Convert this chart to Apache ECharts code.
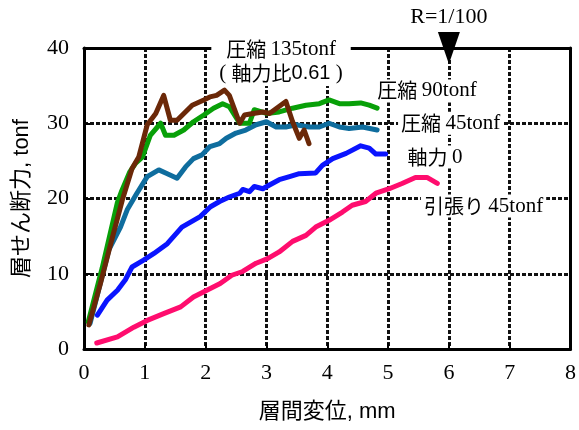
<!DOCTYPE html>
<html><head><meta charset="utf-8">
<script src="https://cdn.jsdelivr.net/npm/echarts@6/dist/echarts.min.js"></script>
<style>html,body{margin:0;padding:0;background:#fff}#c{width:579px;height:430px}</style>
</head><body><div id="c"></div>
<script>
// ---- data (x: 層間変位 mm, y: 層せん断力 tonf) ----
const xTickLabels = ['0','1','2','3','4','5','6','7','8'];
const yTickLabels = ['0','10','20','30','40'];
const seriesNames = ['引張り 45tonf','軸力 0','圧縮 45tonf','圧縮 90tonf','圧縮 135tonf'];

const tension45 = [[0.21,0.8],[0.55,1.6],[0.82,2.9],[1.04,3.8],[1.31,4.7],[1.59,5.6],[1.80,6.9],[2.02,7.8],[2.24,8.7],[2.43,9.8],[2.61,10.3],[2.83,11.4],[3.02,12.0],[3.21,12.9],[3.43,14.3],[3.65,15.1],[3.81,16.2],[4.03,17.1],[4.25,18.2],[4.41,19.1],[4.63,19.6],[4.80,20.7],[5.02,21.3],[5.23,22.0],[5.45,22.8],[5.64,22.8],[5.81,22.0]];
const axial0 = [[0.22,4.5],[0.38,6.5],[0.55,7.8],[0.68,9.2],[0.79,10.9],[0.98,11.8],[1.15,12.7],[1.37,14.0],[1.61,16.2],[1.91,17.6],[2.08,18.9],[2.23,19.6],[2.39,20.2],[2.56,20.7],[2.61,21.2],[2.72,20.9],[2.80,21.6],[2.94,21.3],[3.05,21.8],[3.21,22.5],[3.38,22.9],[3.54,23.3],[3.81,23.4],[3.92,24.4],[4.09,25.3],[4.31,26.0],[4.55,27.0],[4.69,26.7],[4.80,25.9],[4.96,25.9]];
const comp45 = [[0.10,3.4],[0.41,13.2],[0.60,16.2],[0.71,18.5],[0.87,20.7],[1.04,22.9],[1.23,23.8],[1.37,23.3],[1.53,22.7],[1.67,24.2],[1.80,25.3],[1.94,25.8],[2.07,26.9],[2.23,27.3],[2.34,28.0],[2.50,28.7],[2.66,29.1],[2.83,29.8],[3.00,30.2],[3.16,29.5],[3.32,29.5],[3.49,29.8],[3.70,29.5],[3.87,29.5],[4.03,30.0],[4.20,29.5],[4.36,29.3],[4.58,29.5],[4.82,29.1]];
const comp90 = [[0.07,3.6],[0.30,10.8],[0.55,19.5],[0.62,21.0],[0.75,23.5],[0.85,24.7],[0.96,25.5],[1.09,28.4],[1.26,30.0],[1.34,28.4],[1.48,28.4],[1.64,29.1],[1.80,30.2],[1.97,31.1],[2.13,32.0],[2.28,32.6],[2.39,32.2],[2.56,30.0],[2.72,30.0],[2.80,31.8],[3.00,31.3],[3.21,31.5],[3.43,32.0],[3.65,32.4],[3.87,32.6],[4.03,33.1],[4.20,32.6],[4.36,32.6],[4.55,32.7],[4.69,32.4],[4.82,32.0]];
const comp135 = [[0.08,3.2],[0.27,8.7],[0.44,14.0],[0.63,19.8],[0.79,24.0],[0.90,25.5],[1.04,29.8],[1.18,31.3],[1.31,33.7],[1.42,30.4],[1.53,30.4],[1.78,32.4],[1.97,33.1],[2.07,33.5],[2.18,33.7],[2.31,34.4],[2.39,33.7],[2.56,30.0],[2.64,31.1],[2.78,31.3],[2.94,31.5],[3.05,31.3],[3.32,32.9],[3.43,30.2],[3.54,28.0],[3.62,29.1],[3.70,27.3]];
const driftMark = [6, 40]; // R=1/100

const SERIF = "'Liberation Serif','Times New Roman','Noto Sans CJK JP',serif";
const SANS = "'Liberation Sans','Noto Sans CJK JP',sans-serif";
const CJK = "'Noto Sans CJK JP','Liberation Sans',sans-serif";

const chart = echarts.init(document.getElementById('c'), null, {renderer:'canvas'});
const gridLine = {show:true, lineStyle:{color:'#111', width:3, type:[4,2]}};
const axisLine = {show:true, onZero:false, lineStyle:{color:'#000', width:3}};
function line(name, data, color){
  return {name, type:'line', data, symbol:'none', clip:false,
    lineStyle:{color, width:5, join:'round', cap:'round'}, itemStyle:{color}};
}
const option = {
  animation:false,
  backgroundColor:'#fff',
  grid:{left:84, right:7, top:48, bottom:81},
  xAxis:[{type:'value', min:0, max:8, interval:1, position:'bottom',
    name:'層間変位, mm', nameLocation:'middle', nameGap:52,
    nameTextStyle:{fontFamily:SANS, fontSize:22, color:'#000'},
    axisLine, axisTick:{show:true, inside:true, length:6, lineStyle:{width:2,color:'#000'}},
    axisLabel:{fontFamily:SERIF, fontSize:22, color:'#000', margin:13,
      formatter:(v)=>xTickLabels[Math.round(v)]},
    splitLine:gridLine},
    {type:'value', min:0, max:8, interval:1, position:'top', axisLine, axisTick:{show:false}, axisLabel:{show:false}, splitLine:{show:false}}],
  yAxis:[{type:'value', min:0, max:40, interval:10, position:'left',
    name:'層せん断力, tonf', nameLocation:'middle', nameGap:51, nameRotate:90,
    nameTextStyle:{fontFamily:SANS, fontSize:22, color:'#000'},
    axisLine, axisTick:{show:true, inside:true, length:6, lineStyle:{width:2,color:'#000'}},
    axisLabel:{fontFamily:SERIF, fontSize:22, color:'#000', margin:15,
      formatter:(v)=>yTickLabels[Math.round(v/10)]},
    splitLine:gridLine},
    {type:'value', min:0, max:40, interval:10, position:'right', axisLine, axisTick:{show:false}, axisLabel:{show:false}, splitLine:{show:false}}],
  series:[
    line(seriesNames[0], tension45, '#ff0d6e'),
    line(seriesNames[1], axial0, '#0a14ff'),
    line(seriesNames[2], comp45, '#0f6d9e'),
    line(seriesNames[3], comp90, '#08a008'),
    Object.assign(line(seriesNames[4], comp135, '#6b2808'), {
      markPoint:{symbol:'triangle', symbolRotate:180, symbolSize:[22,32], z:200,
        itemStyle:{color:'#000'},
        data:[{coord:driftMark, label:{show:false}}]}})
  ]
};
chart.setOption(option);

const P = (x,y)=>chart.convertToPixel({xAxisIndex:0,yAxisIndex:0},[x,y]);
function label(pt, rich, text, pad){
  return {type:'text', z:100, x:pt[0], y:pt[1],
    style:{text, align:'center', verticalAlign:'middle', backgroundColor:'#fff',
      padding:pad || [1,3], rich}};
}
const richStd = {
  j:{fontFamily:CJK, fontSize:20, fill:'#000', color:'#000'},
  n:{fontFamily:SERIF, fontSize:21, fill:'#000', color:'#000'},
  s:{fontFamily:SANS, fontSize:20, fill:'#000', color:'#000'}
};
const richTwo = {
  j:{fontFamily:CJK, fontSize:20, fill:'#000', lineHeight:24},
  n:{fontFamily:SERIF, fontSize:21, fill:'#000', lineHeight:24},
  s:{fontFamily:SANS, fontSize:20, fill:'#000', lineHeight:24}
};
const pR = P(6, 44.1);
chart.setOption({graphic:[
  {type:'text', z:100, x:pR[0], y:pR[1], style:{text:'R=1/100', align:'center', verticalAlign:'middle',
    font:"22px "+SERIF, fill:'#000'}},
  label(P(3.24, 38.6), richTwo,
    '{j|圧縮 }{n|135tonf}\n{n|( }{j|軸力比}{s|0.61}{n| )}', [6,8,1,8]),
  label(P(5.64, 34.3), richStd, '{j|圧縮 }{n|90tonf}'),
  label(P(6.03, 30.0), richStd, '{j|圧縮 }{n|45tonf}'),
  label(P(5.77, 25.5), richStd, '{j|軸力 }{n|0}'),
  label(P(6.57, 19.0), richStd, '{j|引張り }{n|45tonf}')
]});
</script></body></html>
